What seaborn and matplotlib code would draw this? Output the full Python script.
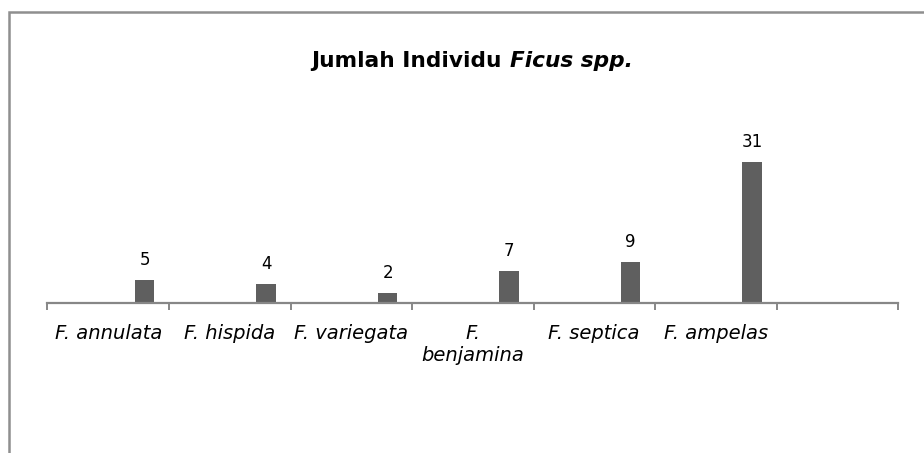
import numpy as np
import seaborn as sns
import matplotlib.pyplot as plt
from matplotlib.patches import Rectangle

# data
species = ["F. annulata", "F. hispida", "F. variegata", "F.\nbenjamina", "F. septica", "F. ampelas"]
counts = [5, 4, 2, 7, 9, 31]

bar_color = "#5f5f5f"
axis_color = "#878787"

sns.set_theme(style="white")
plt.rcParams["font.family"] = ["DejaVu Sans"]

W, H = 924, 453
fig = plt.figure(figsize=(W / 100, H / 100), dpi=100)
# plot area: x 47.5..898 px, baseline at y=302.5 px
ax = fig.add_axes([47.5 / W, (H - 302.5) / H, 850.5 / W, 202.5 / H])

sns.barplot(x=species, y=counts, color=bar_color, width=0.16, saturation=1, ax=ax)
for p in ax.patches:
    p.set_edgecolor("none")

ax.bar_label(ax.containers[0], labels=[str(c) for c in counts], padding=8, fontsize=12, color="black")

# bars sit in the right part of each category slot; axis has one empty slot at the end
offset = 0.3
n = len(species)
slots = n + 1
ax.set_xlim(-0.5 - offset, slots - 0.5 - offset)
ax.set_ylim(0, 44.8)

ax.set_xticks(np.arange(slots + 1) - 0.5 - offset)
ax.set_xticklabels([])
ax.set_xticks(np.arange(n) - offset, minor=True)
ax.set_xticklabels(species, minor=True, fontsize=14, style="italic", color="black", linespacing=1.2)
ax.tick_params(axis="x", which="major", direction="out", length=5, width=1.4, color=axis_color, bottom=True)
ax.tick_params(axis="x", which="minor", length=0, pad=15.5)
ax.set_yticks([])
ax.set_xlabel("")
ax.set_ylabel("")

for s in ["top", "right", "left"]:
    ax.spines[s].set_visible(False)
ax.spines["bottom"].set_color(axis_color)
ax.spines["bottom"].set_linewidth(1.6)

# chart border (cut off at right and bottom)
fig.patches.append(Rectangle((9 / W, -0.2), 1.2, 1.2 - 12 / H, transform=fig.transFigure,
                             fill=False, edgecolor="#8f8f8f", linewidth=1.8))

# title: bold, with the genus in bold italic
ty = 1 - 67 / H
t1 = fig.text(0, ty, "Jumlah Individu ", fontsize=15.6, fontweight="bold", va="baseline", color="black")
t2 = fig.text(0, ty, "Ficus spp.", fontsize=15.6, fontweight="bold", style="italic", va="baseline", color="black")
fig.canvas.draw()
r = fig.canvas.get_renderer()
w1 = t1.get_window_extent(r).width
w2 = t2.get_window_extent(r).width
x0 = 472 - (w1 + w2) / 2
t1.set_x(x0 / W)
t2.set_x((x0 + w1) / W)

fig.savefig("out.png", dpi=100)
